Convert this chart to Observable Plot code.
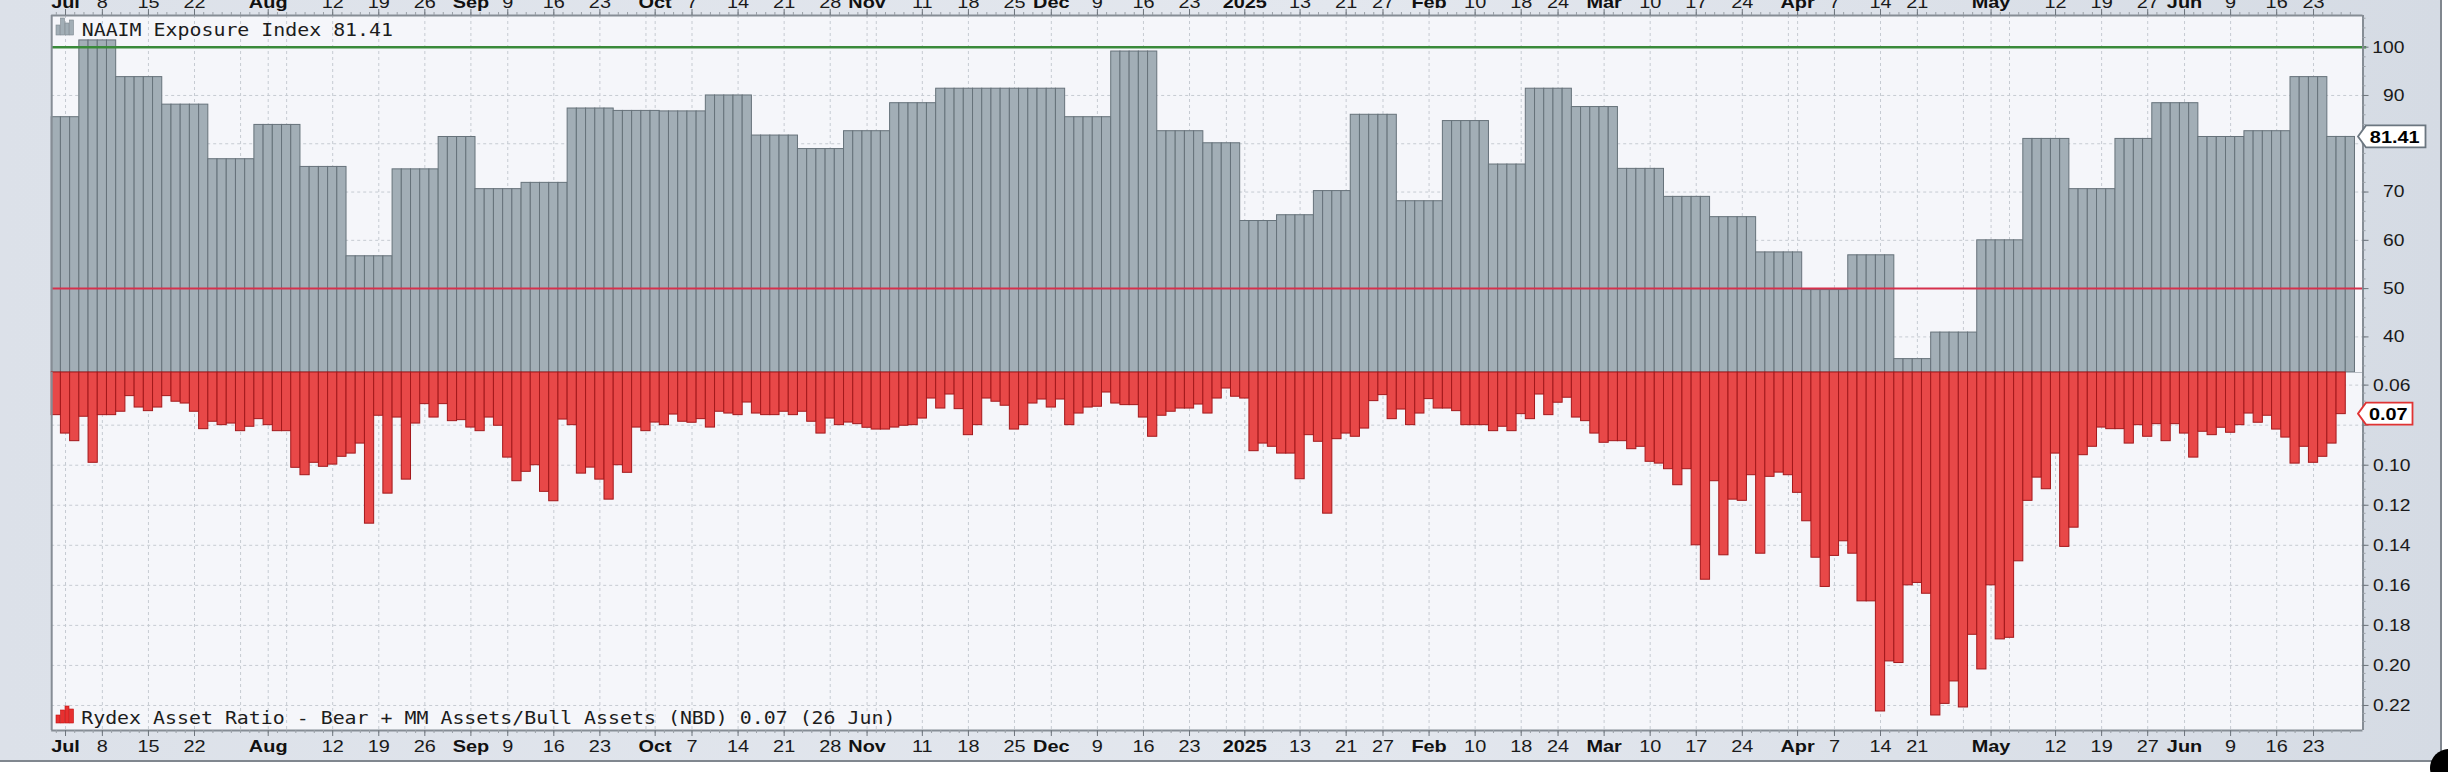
<!DOCTYPE html>
<html>
<head>
<meta charset="utf-8">
<script src="https://cdn.jsdelivr.net/npm/d3@7"></script>
<script src="https://cdn.jsdelivr.net/npm/@observablehq/plot@0.6"></script>
<style>
  html, body { margin: 0; padding: 0; background: #ffffff; }
  #wrap { position: relative; width: 2448px; height: 772px; overflow: hidden; background: #ffffff; }
  #panel { position: absolute; left: 0; top: 0; width: 2440px; height: 760px;
    background: linear-gradient(to right, #dce1e9 0%, #e3e7ee 55%, #d5dbe4 100%);
    border-right: 2px solid #80878f; border-bottom: 2px solid #80878f; }
  #wrap svg { position: absolute; left: 0; overflow: visible; max-width: none; }
  #blob { position: absolute; left: 2430px; top: 749px; width: 38px; height: 38px; border-radius: 50%; background: #000; }
</style>
</head>
<body>
<div id="wrap"><div id="panel"></div><div id="blob"></div></div>
<script>
// ---------------- data ----------------
const holidays = ["2024-07-04","2024-09-02","2024-11-28","2024-12-25","2025-01-01","2025-01-09",
  "2025-01-20","2025-02-17","2025-04-18","2025-05-26","2025-06-19"];
const firstSession = "2024-06-28";
const lastSession = "2025-06-27";

// NAAIM Exposure Index, weekly readings (week starting date)
const naaimWeek = ["2024-06-26","2024-07-03","2024-07-10","2024-07-17","2024-07-24","2024-07-31",
  "2024-08-07","2024-08-14","2024-08-21","2024-08-28","2024-09-04","2024-09-11","2024-09-18",
  "2024-09-25","2024-10-02","2024-10-09","2024-10-16","2024-10-23","2024-10-30","2024-11-06",
  "2024-11-13","2024-11-20","2024-11-27","2024-12-04","2024-12-11","2024-12-18","2024-12-25",
  "2025-01-01","2025-01-08","2025-01-15","2025-01-22","2025-01-29","2025-02-05","2025-02-12",
  "2025-02-19","2025-02-26","2025-03-05","2025-03-12","2025-03-19","2025-03-26","2025-04-02",
  "2025-04-09","2025-04-16","2025-04-23","2025-04-30","2025-05-07","2025-05-14","2025-05-21",
  "2025-05-28","2025-06-04","2025-06-11","2025-06-18","2025-06-25"];
const naaimValue = [85.5,101.4,93.8,88.1,76.8,83.9,
  75.2,56.7,74.7,81.4,70.6,71.9,87.3,
  86.8,86.7,90.0,81.7,78.9,82.6,88.4,
  91.4,91.4,91.4,85.5,99.1,82.6,80.1,
  64.0,65.2,70.2,86.0,68.1,84.7,75.7,
  91.4,87.6,74.8,69.0,64.8,57.5,49.7,
  56.9,35.4,40.9,60.0,81.0,70.6,81.0,
  88.4,81.4,82.6,93.8,81.41];

// Rydex Asset Ratio, daily from 2024-06-28 to 2025-06-26
const rydexValue = [
0.0750,0.0842,0.0880,0.0758,0.0988,0.0750,0.0750,0.0733,0.0655,0.0712,
0.0730,0.0712,0.0655,0.0683,0.0692,0.0733,0.0820,0.0783,0.0800,0.0792,
0.0830,0.0808,0.0770,0.0800,0.0830,0.0830,0.1013,0.1050,0.0988,0.1008,
0.0997,0.0958,0.0942,0.0892,0.1292,0.0753,0.1142,0.0762,0.1072,0.0792,
0.0695,0.0762,0.0695,0.0780,0.0775,0.0812,0.0830,0.0762,0.0803,0.0962,
0.1080,0.1033,0.1000,0.1133,0.1180,0.0772,0.0800,0.1042,0.1012,0.1072,
0.1172,0.1000,0.1038,0.0812,0.0830,0.0787,0.0800,0.0747,0.0783,0.0788,
0.0770,0.0812,0.0733,0.0742,0.0750,0.0687,0.0742,0.0750,0.0750,0.0733,
0.0750,0.0733,0.0783,0.0842,0.0767,0.0800,0.0787,0.0795,0.0813,0.0822,
0.0822,0.0812,0.0803,0.0800,0.0767,0.0667,0.0717,0.0647,0.0720,0.0850,
0.0800,0.0667,0.0683,0.0703,0.0822,0.0800,0.0692,0.0672,0.0712,0.0672,
0.0800,0.0742,0.0712,0.0708,0.0637,0.0692,0.0700,0.0700,0.0762,0.0858,
0.0753,0.0733,0.0717,0.0717,0.0697,0.0742,0.0667,0.0617,0.0658,0.0667,
0.0930,0.0892,0.0908,0.0942,0.0942,0.1070,0.0850,0.0883,0.1242,0.0870,
0.0842,0.0858,0.0817,0.0680,0.0650,0.0770,0.0722,0.0800,0.0742,0.0670,
0.0717,0.0717,0.0730,0.0800,0.0800,0.0800,0.0830,0.0808,0.0830,0.0745,
0.0770,0.0647,0.0750,0.0688,0.0663,0.0762,0.0780,0.0842,0.0888,0.0880,
0.0880,0.0920,0.0908,0.0983,0.0992,0.1020,0.1100,0.1020,0.1400,0.1572,
0.1080,0.1450,0.1172,0.1178,0.1050,0.1442,0.1058,0.1037,0.1050,0.1138,
0.1280,0.1462,0.1608,0.1453,0.1380,0.1442,0.1680,0.1680,0.2230,0.1980,
0.1988,0.1600,0.1588,0.1642,0.2250,0.2192,0.2080,0.2210,0.1847,0.2020,
0.1600,0.1870,0.1862,0.1480,0.1178,0.1062,0.1120,0.0942,0.1408,0.1312,
0.0950,0.0908,0.0812,0.0820,0.0820,0.0892,0.0800,0.0858,0.0795,0.0880,
0.0795,0.0842,0.0962,0.0833,0.0850,0.0813,0.0838,0.0800,0.0742,0.0788,
0.0753,0.0822,0.0862,0.0992,0.0908,0.0988,0.0958,0.0892,0.0745];

const tickDate = ["2024-07-01","2024-07-08","2024-07-15","2024-07-22","2024-08-01","2024-08-12",
  "2024-08-19","2024-08-26","2024-09-03","2024-09-09","2024-09-16","2024-09-23","2024-10-01",
  "2024-10-07","2024-10-14","2024-10-21","2024-10-28","2024-11-01","2024-11-11","2024-11-18",
  "2024-11-25","2024-12-02","2024-12-09","2024-12-16","2024-12-23","2025-01-02","2025-01-13",
  "2025-01-21","2025-01-27","2025-02-03","2025-02-10","2025-02-18","2025-02-24","2025-03-03",
  "2025-03-10","2025-03-17","2025-03-24","2025-04-01","2025-04-07","2025-04-14","2025-04-21",
  "2025-05-01","2025-05-12","2025-05-19","2025-05-27","2025-06-02","2025-06-09","2025-06-16",
  "2025-06-23"];
const tickLabel = ["Jul","8","15","22","Aug","12","19","26","Sep","9","16","23","Oct",
  "7","14","21","28","Nov","11","18","25","Dec","9","16","23","2025","13",
  "21","27","Feb","10","18","24","Mar","10","17","24","Apr","7","14","21",
  "May","12","19","27","Jun","9","16","23"];

const naaimTicks = [40, 50, 60, 70, 80, 90, 100];
const naaimLabels = [40, 50, 60, 70, 90, 100];          // 80 sits under the value tag
const naaimGrid = [40, 60, 70, 80, 90];
const rydexTicks = [0.06, 0.08, 0.10, 0.12, 0.14, 0.16, 0.18, 0.20, 0.22];
const rydexLabels = [0.06, 0.10, 0.12, 0.14, 0.16, 0.18, 0.20, 0.22]; // 0.08 sits under the value tag
const naaimTitle = "NAAIM Exposure Index";
const naaimLast = 81.41;
const rydexTitle = "Rydex Asset Ratio - Bear + MM Assets/Bull Assets (NBD)";
const rydexLast = 0.07;
const rydexLastDate = "26 Jun";

// ---------------- calendar ----------------
const fmt = d3.utcFormat("%Y-%m-%d");
const sessions = d3.utcDays(new Date(firstSession), d3.utcDay.offset(new Date(lastSession), 1))
  .filter(d => d.getUTCDay() % 6 !== 0 && !holidays.includes(fmt(d))).map(fmt);
const idx = new Map(sessions.map((s, i) => [s, i]));
const weekKey = s => d3.utcMonday.floor(new Date(s)).getTime();
const gridIdx = sessions.map((s, i) => i).filter(i => i > 0 &&
  (weekKey(sessions[i]) !== weekKey(sessions[i - 1]) || sessions[i].slice(0, 7) !== sessions[i - 1].slice(0, 7)));

const naaimDaily = sessions.map((s, i) => {
  let v = null;
  naaimWeek.forEach((w, k) => { if (w <= s) v = naaimValue[k]; });
  return {i, v};
});
const rydexDaily = rydexValue.map((v, i) => ({i, v}));
const ticks = tickDate.map((d, k) => ({i: idx.get(d), label: tickLabel[k], bold: !/^\d{1,2}$/.test(tickLabel[k])}));

// ---------------- layout ----------------
const W = 2448;
const mL = 51.2, mR = 85.5;
const xDomain = [0, sessions.length + 0.87];
const barPx = (W - mL - mR) / (xDomain[1] - xDomain[0]);
const topDomain = [32.63, 106.56];
const botDomain = [0.0537, 0.2325];
const topH = 372, topMT = 15;
const botH = 400, botMB = 42;
const topPx = (topH - topMT) / (topDomain[1] - topDomain[0]);
const botPx = (botH - botMB) / (botDomain[1] - botDomain[0]);

const AX = "Liberation Sans, Arial, sans-serif";
const MONO = "DejaVu Sans Mono, monospace";
const GRID = "#c6cbd2";
const EDGE = "#868d95";
const PLOTBG = "#f5f6fa";

function xLabels(yVal, dy) {
  return [
    Plot.text(ticks.filter(t => !t.bold), {x: t => t.i + 0.5, y: () => yVal, text: "label", dy, lineAnchor: "bottom",
      fontFamily: AX, fontSize: 17, fill: "#1a1a1a"}),
    Plot.text(ticks.filter(t => t.bold), {x: t => t.i + 0.5, y: () => yVal, text: "label", dy, lineAnchor: "bottom",
      fontFamily: AX, fontSize: 17, fontWeight: "bold", fill: "#111"})
  ];
}

const topPlot = Plot.plot({
  width: W, height: topH, marginTop: topMT, marginBottom: 0, marginLeft: mL, marginRight: mR,
  x: {domain: xDomain, axis: null},
  y: {domain: topDomain, axis: null},
  style: {background: "transparent", overflow: "visible"},
  marks: [
    Plot.frame({fill: PLOTBG, stroke: null}),
    Plot.ruleY(naaimGrid, {stroke: GRID, strokeDasharray: "3,3"}),
    Plot.ruleX(gridIdx, {x: i => i + 0.5, stroke: GRID, strokeDasharray: "3,3"}),
    Plot.rect(naaimDaily, {x1: "i", x2: d => d.i + 1, y1: topDomain[0], y2: "v", fill: "#a2aeb6", stroke: "#66727a", strokeWidth: 1}),
    Plot.ruleY([50], {stroke: "#d6304c", strokeWidth: 2}),
    Plot.ruleY([100], {x1: xDomain[0], x2: xDomain[1] + 0.4, stroke: "#3a8a3a", strokeWidth: 2.5}),
    Plot.ruleX([xDomain[0], xDomain[1]], {stroke: EDGE, strokeWidth: 2}),
    Plot.ruleY([topDomain[1]], {stroke: EDGE, strokeWidth: 2}),
    Plot.ruleX(sessions.map((s, i) => i + 0.5), {y1: topDomain[1], y2: topDomain[1] + 3 / topPx, stroke: "#9aa0a7"}),
    Plot.ruleX(ticks, {x: t => t.i + 0.5, y1: topDomain[1], y2: topDomain[1] + 6 / topPx, stroke: "#6d747c"}),
    Plot.ruleY(d3.range(34, 107, 2), {x1: xDomain[1], x2: xDomain[1] + 3 / barPx, stroke: "#9aa0a7"}),
    Plot.ruleY(naaimTicks, {x1: xDomain[1], x2: xDomain[1] + 6 / barPx, stroke: "#6d747c"}),
    ...xLabels(topDomain[1], -8),
    Plot.text([`${naaimTitle} ${naaimLast}`], {x: () => xDomain[0], y: () => topDomain[1], text: d => d, dx: 30, dy: 20,
      lineAnchor: "bottom", textAnchor: "start", fontFamily: MONO, fontSize: 17, fill: "#1c1c1c"})
  ]
});
topPlot.style.top = "0px";

const botPlot = Plot.plot({
  width: W, height: botH, marginTop: 0, marginBottom: botMB, marginLeft: mL, marginRight: mR,
  x: {domain: xDomain, axis: null},
  y: {domain: botDomain, reverse: true, axis: null},
  style: {background: "transparent", overflow: "visible"},
  marks: [
    Plot.frame({fill: PLOTBG, stroke: null}),
    Plot.ruleY(rydexTicks, {stroke: GRID, strokeDasharray: "3,3"}),
    Plot.ruleX(gridIdx, {x: i => i + 0.5, stroke: GRID, strokeDasharray: "3,3"}),
    Plot.ruleY([botDomain[0]], {stroke: "#b7bcc3", strokeWidth: 1}),
    Plot.rect(rydexDaily, {x1: "i", x2: d => d.i + 1, y1: botDomain[0], y2: "v", fill: "#e84848", stroke: "#a3181b", strokeWidth: 1}),
    Plot.ruleX([xDomain[0], xDomain[1]], {stroke: EDGE, strokeWidth: 2}),
    Plot.ruleY([botDomain[1]], {stroke: EDGE, strokeWidth: 2}),
    Plot.ruleX(sessions.map((s, i) => i + 0.5), {y1: botDomain[1], y2: botDomain[1] + 3 / botPx, stroke: "#9aa0a7"}),
    Plot.ruleX(ticks, {x: t => t.i + 0.5, y1: botDomain[1], y2: botDomain[1] + 6 / botPx, stroke: "#6d747c"}),
    Plot.ruleY(d3.range(0.056, 0.232, 0.004), {x1: xDomain[1], x2: xDomain[1] + 3 / barPx, stroke: "#9aa0a7"}),
    Plot.ruleY(rydexTicks, {x1: xDomain[1], x2: xDomain[1] + 6 / barPx, stroke: "#6d747c"}),
    ...xLabels(botDomain[1], 21),
    Plot.text([`${rydexTitle} ${d3.format(".2f")(rydexLast)} (${rydexLastDate})`], {x: () => xDomain[0], y: () => botDomain[1],
      text: d => d, dx: 29.5, dy: -7, lineAnchor: "bottom", textAnchor: "start", fontFamily: MONO, fontSize: 17, fill: "#1c1c1c"})
  ]
});
botPlot.style.top = topH + "px";

const wrap = document.getElementById("wrap");
wrap.appendChild(topPlot);
wrap.appendChild(botPlot);

// right-hand value axis labels, placed with each plot's own y scale
function rightLabels(svg, values, format, xEnd) {
  const y = svg.scale("y");
  const g = d3.select(svg).append("g").attr("font-family", AX).attr("font-size", 16.5).attr("fill", "#1a1a1a")
    .attr("text-anchor", "end");
  values.forEach(v => {
    g.append("text").attr("transform", `translate(${xEnd},${y.apply(v)})`).attr("dy", "0.36em").text(format(v));
  });
}
rightLabels(topPlot, naaimLabels, v => String(v), W - mR + 42);
rightLabels(botPlot, rydexLabels, d3.format(".2f"), W - mR + 48);

// value tags on the right axis
function tag(svg, cy, label, stroke, boxRight) {
  const xr = W - mR;
  const tip = xr - 4.5, left = xr + 3.5, h = 11;
  const g = d3.select(svg).append("g");
  g.append("path")
    .attr("d", `M${tip},${cy}L${left},${cy - h}L${boxRight},${cy - h}L${boxRight},${cy + h}L${left},${cy + h}Z`)
    .attr("fill", "#ffffff").attr("stroke", stroke).attr("stroke-width", 1.8);
  g.append("text").attr("transform", `translate(${(left + boxRight) / 2 - 1},${cy})`).attr("dy", "0.36em")
    .attr("text-anchor", "middle").attr("font-family", AX).attr("font-size", 17).attr("font-weight", "bold")
    .attr("fill", "#000").text(label);
}
tag(topPlot, topPlot.scale("y").apply(naaimLast), String(naaimLast), "#6b7680", W - mR + 63);
tag(botPlot, botPlot.scale("y").apply(rydexValue[rydexValue.length - 1]), d3.format(".2f")(rydexLast), "#e03333", W - mR + 50);

// legend icons
function icon(svg, x, yBase, heights, fill, stroke) {
  const g = d3.select(svg).append("g");
  heights.forEach((h, k) => {
    g.append("rect").attr("x", x + k * 4.5).attr("y", yBase - h).attr("width", 4).attr("height", h)
      .attr("fill", fill).attr("stroke", stroke).attr("stroke-width", 0.6);
  });
}
icon(topPlot, 56, 35, [10, 17, 12, 15], "#a2aeb6", "#7d8890");
icon(botPlot, 56, 723 - topH, [8, 13, 17, 14], "#e83030", "#c01010");

// horizontal stretch of the lettering to match the reference
function stretch(svg, sx) {
  svg.querySelectorAll("text").forEach(t => {
    let tr = t.getAttribute("transform") || "";
    const x = t.getAttribute("x"), y = t.getAttribute("y");
    if (x != null || y != null) {
      tr += ` translate(${x || 0},${y || 0})`;
      t.removeAttribute("x"); t.removeAttribute("y");
    }
    t.setAttribute("transform", `${tr} scale(${sx},1)`);
  });
}
stretch(topPlot, 1.17);
stretch(botPlot, 1.17);
</script>
</body>
</html>
